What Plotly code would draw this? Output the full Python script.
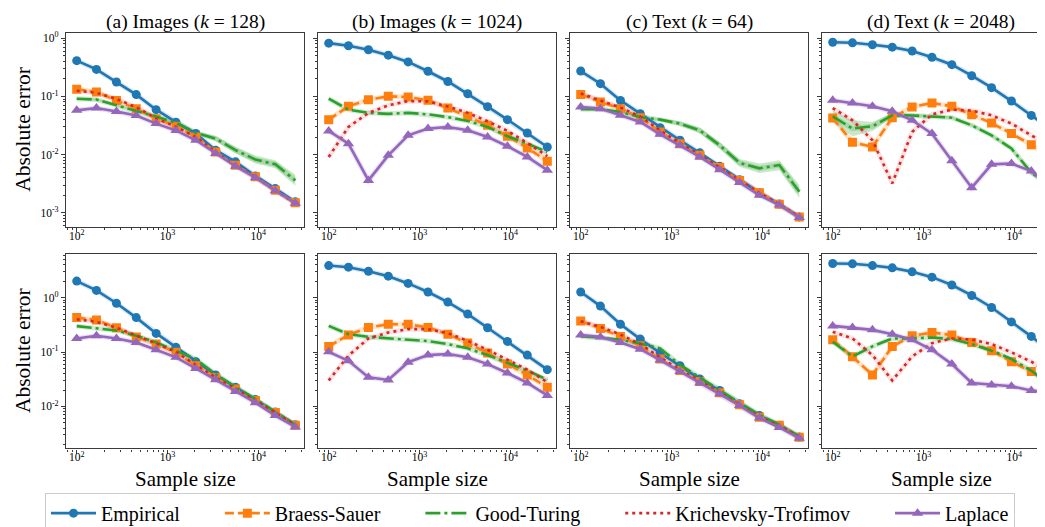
import plotly.graph_objects as go

W, H = 1045, 527

N = [100, 165, 274, 453, 750, 1241, 2054, 3400, 5627, 9314, 15415, 25600]

METHODS = ["Empirical", "Braess-Sauer", "Good-Turing", "Krichevsky-Trofimov", "Laplace"]
TITLES = ["(a) Images (<i>k</i> = 128)", "(b) Images (<i>k</i> = 1024)",
          "(c) Text (<i>k</i> = 64)", "(d) Text (<i>k</i> = 2048)"]
X_TICKS = [100, 1000, 10000]
X_TICKTEXT = ["10<sup>2</sup>", "10<sup>3</sup>", "10<sup>4</sup>"]
Y1_TICKS = [0.001, 0.01, 0.1, 1]
Y1_TICKTEXT = ["10<sup>-3</sup>", "10<sup>-2</sup>", "10<sup>-1</sup>", "10<sup>0</sup>"]
Y2_TICKS = [0.01, 0.1, 1]
Y2_TICKTEXT = ["10<sup>-2</sup>", "10<sup>-1</sup>", "10<sup>0</sup>"]

# ---- top row (panel a..d) ----
A1_EMP = [0.41, 0.29, 0.176, 0.107, 0.059, 0.036, 0.023, 0.0119, 0.0075, 0.0043, 0.0026, 0.00154]
A1_BS = [0.132, 0.119, 0.085, 0.0615, 0.0414, 0.0306, 0.0201, 0.0111, 0.00656, 0.00414, 0.00245, 0.00148]
A1_GT = [0.091, 0.088, 0.070, 0.057, 0.045, 0.035, 0.0235, 0.0188, 0.0119, 0.0082, 0.0068, 0.0036]
A1_KT = [0.125, 0.115, 0.090, 0.065, 0.042, 0.030, 0.020, 0.011, 0.0065, 0.0041, 0.0024, 0.00146]
A1_LAP = [0.0575, 0.063, 0.055, 0.047, 0.034, 0.026, 0.0176, 0.0104, 0.0063, 0.0040, 0.0024, 0.00146]
A1_GT_LO = [0.087, 0.085, 0.067, 0.055, 0.043, 0.033, 0.0220, 0.0169, 0.0104, 0.0070, 0.0058, 0.0029]
A1_GT_HI = [0.095, 0.092, 0.073, 0.059, 0.047, 0.037, 0.0251, 0.0209, 0.0136, 0.0096, 0.0080, 0.0045]

B1_EMP = [0.82, 0.74, 0.63, 0.51, 0.39, 0.27, 0.18, 0.111, 0.0665, 0.0398, 0.0235, 0.0135]
B1_BS = [0.0398, 0.0674, 0.0877, 0.100, 0.0975, 0.0854, 0.063, 0.0454, 0.0318, 0.0206, 0.013, 0.0077]
B1_GT = [0.091, 0.059, 0.052, 0.050, 0.052, 0.049, 0.044, 0.0378, 0.0298, 0.0206, 0.0154, 0.0111]
B1_KT = [0.0091, 0.0298, 0.0518, 0.070, 0.083, 0.082, 0.067, 0.052, 0.0373, 0.0255, 0.0158, 0.0094]
B1_LAP = [0.0255, 0.0154, 0.0036, 0.0097, 0.0214, 0.0279, 0.0298, 0.0261, 0.0201, 0.0139, 0.0091, 0.0054]

C1_EMP = [0.272, 0.165, 0.085, 0.0504, 0.029, 0.0176, 0.0107, 0.0063, 0.0037, 0.0022, 0.00141, 0.00085]
C1_BS = [0.108, 0.080, 0.0615, 0.043, 0.0245, 0.0154, 0.0097, 0.0060, 0.0036, 0.0022, 0.0014, 0.00085]
C1_GT = [0.060, 0.0605, 0.054, 0.044, 0.0398, 0.034, 0.026, 0.0144, 0.0072, 0.0058, 0.0066, 0.0023]
C1_KT = [0.112, 0.085, 0.064, 0.045, 0.026, 0.0158, 0.0098, 0.0060, 0.0036, 0.0022, 0.0014, 0.00085]
C1_LAP = [0.0657, 0.0615, 0.0472, 0.0363, 0.0223, 0.0144, 0.0091, 0.0055, 0.0033, 0.0020, 0.00136, 0.00083]
C1_GT_LO = [0.0577, 0.058, 0.052, 0.042, 0.0378, 0.0314, 0.0231, 0.0126, 0.0062, 0.0048, 0.0054, 0.0018]
C1_GT_HI = [0.0625, 0.063, 0.056, 0.046, 0.042, 0.0368, 0.0293, 0.0164, 0.0084, 0.0070, 0.0080, 0.0030]

D1_EMP = [0.85, 0.83, 0.77, 0.70, 0.60, 0.47, 0.35, 0.226, 0.141, 0.083, 0.047, 0.027]
D1_BS = [0.0425, 0.0163, 0.0135, 0.043, 0.0657, 0.0769, 0.0674, 0.0485, 0.0349, 0.0229, 0.0148, 0.0088]
D1_GT = [0.0454, 0.0279, 0.0306, 0.0472, 0.047, 0.0454, 0.043, 0.0318, 0.0214, 0.0127, 0.0049, 0.0028]
D1_KT = [0.063, 0.0388, 0.0176, 0.0032, 0.0245, 0.049, 0.059, 0.057, 0.0472, 0.034, 0.0214, 0.0135]
D1_LAP = [0.0854, 0.0769, 0.0674, 0.0553, 0.0388, 0.0229, 0.0078, 0.0027, 0.0068, 0.0070, 0.0052, 0.0028]
D1_GT_LO = [0.036, 0.0206, 0.0255, 0.0430, 0.0439, 0.0431, 0.0408, 0.0302, 0.0203, 0.0120, 0.0045, 0.0026]
D1_GT_HI = [0.057, 0.0388, 0.0363, 0.0516, 0.0503, 0.0478, 0.0453, 0.0335, 0.0225, 0.0134, 0.0051, 0.0030]

# ---- bottom row ----
A2_EMP = [2.02, 1.36, 0.79, 0.43, 0.22, 0.122, 0.0665, 0.038, 0.0226, 0.0134, 0.0079, 0.0046]
A2_BS = [0.43, 0.39, 0.28, 0.19, 0.14, 0.099, 0.056, 0.034, 0.021, 0.0128, 0.0077, 0.0045]
A2_GT = [0.30, 0.27, 0.25, 0.20, 0.15, 0.106, 0.074, 0.039, 0.0226, 0.0137, 0.0080, 0.0046]
A2_KT = [0.40, 0.36, 0.28, 0.20, 0.145, 0.100, 0.058, 0.034, 0.021, 0.0128, 0.0077, 0.0045]
A2_LAP = [0.178, 0.199, 0.178, 0.150, 0.110, 0.080, 0.050, 0.031, 0.0188, 0.0117, 0.0068, 0.0042]

B2_EMP = [3.9, 3.64, 3.07, 2.49, 1.83, 1.27, 0.83, 0.50, 0.28, 0.157, 0.088, 0.0475]
B2_BS = [0.127, 0.207, 0.283, 0.325, 0.325, 0.283, 0.213, 0.146, 0.096, 0.060, 0.038, 0.0226]
B2_GT = [0.303, 0.213, 0.190, 0.178, 0.168, 0.159, 0.140, 0.117, 0.088, 0.063, 0.0456, 0.031]
B2_KT = [0.030, 0.0857, 0.178, 0.229, 0.264, 0.264, 0.223, 0.161, 0.110, 0.071, 0.0475, 0.0279]
B2_LAP = [0.101, 0.069, 0.0344, 0.0307, 0.065, 0.088, 0.092, 0.080, 0.060, 0.0413, 0.0271, 0.0159]

C2_EMP = [1.27, 0.70, 0.325, 0.173, 0.096, 0.056, 0.032, 0.0196, 0.0112, 0.0068, 0.0045, 0.00275]
C2_BS = [0.374, 0.271, 0.194, 0.130, 0.0745, 0.0456, 0.0287, 0.0178, 0.0107, 0.0063, 0.0045, 0.0027]
C2_GT = [0.194, 0.185, 0.168, 0.144, 0.117, 0.058, 0.034, 0.0196, 0.0116, 0.0070, 0.0046, 0.0028]
C2_KT = [0.37, 0.29, 0.21, 0.14, 0.080, 0.047, 0.029, 0.018, 0.0107, 0.0064, 0.0044, 0.0027]
C2_LAP = [0.205, 0.190, 0.150, 0.113, 0.071, 0.0437, 0.0271, 0.0170, 0.0104, 0.0061, 0.0041, 0.0026]

D2_EMP = [4.25, 4.2, 3.9, 3.54, 2.99, 2.39, 1.71, 1.10, 0.66, 0.359, 0.194, 0.101]
D2_BS = [0.168, 0.082, 0.038, 0.127, 0.199, 0.229, 0.205, 0.150, 0.106, 0.0665, 0.0437, 0.026]
D2_GT = [0.155, 0.083, 0.127, 0.178, 0.178, 0.185, 0.173, 0.140, 0.106, 0.0745, 0.0456, 0.0235]
D2_KT = [0.235, 0.178, 0.088, 0.030, 0.083, 0.146, 0.178, 0.170, 0.140, 0.099, 0.0665, 0.0396]
D2_LAP = [0.303, 0.283, 0.256, 0.213, 0.168, 0.110, 0.060, 0.027, 0.0249, 0.0235, 0.0196, 0.0183]

PANELS = [
    [A1_EMP, A1_BS, A1_GT, A1_KT, A1_LAP],
    [B1_EMP, B1_BS, B1_GT, B1_KT, B1_LAP],
    [C1_EMP, C1_BS, C1_GT, C1_KT, C1_LAP],
    [D1_EMP, D1_BS, D1_GT, D1_KT, D1_LAP],
    [A2_EMP, A2_BS, A2_GT, A2_KT, A2_LAP],
    [B2_EMP, B2_BS, B2_GT, B2_KT, B2_LAP],
    [C2_EMP, C2_BS, C2_GT, C2_KT, C2_LAP],
    [D2_EMP, D2_BS, D2_GT, D2_KT, D2_LAP],
]
GT_BANDS = {0: (A1_GT_LO, A1_GT_HI), 2: (C1_GT_LO, C1_GT_HI), 3: (D1_GT_LO, D1_GT_HI)}

COLORS = ["#1f77b4", "#ff7f0e", "#2ca02c", "#d62728", "#9467bd"]
HALO = ["rgba(31,119,180,0.18)", "rgba(255,127,14,0.22)", "rgba(44,160,44,0.22)",
        "rgba(214,39,40,0.13)", "rgba(148,103,189,0.22)"]
DASHES = ["solid", "9px,4px", "15px,4px,3px,4px", "3px,4px", "solid"]
SYMBOLS = ["circle", "square", "none", "none", "triangle-up"]
MSIZE = [9, 9, 0, 0, 10]
# spacing after each legend label (non-breaking spaces) to spread entries
LEGEND_PAD = [7, 7, 7, 7, 0]

FONT = "Liberation Serif"
FRAME = "#3a3a3a"

# panel geometry (pixels)
COLS_PX = [(58, 296), (310, 548), (562, 800), (814, 1045)]
ROWS_PX = [(22, 217), (244, 440)]
X_RANGE_FULL = (1.882, 4.504)
PX_PER_DEC = (296 - 58) / (X_RANGE_FULL[1] - X_RANGE_FULL[0])
Y_RANGES = [(-3.24, 0.09), (-2.774, 0.811)]

fig = go.Figure()

for p, series in enumerate(PANELS):
    ax = "" if p == 0 else str(p + 1)
    xa, ya = "x" + ax, "y" + ax
    for m, ys in enumerate(series):
        if m == 2 and p in GT_BANDS:
            lo, hi = GT_BANDS[p]
            fig.add_trace(go.Scatter(x=N, y=lo, mode="lines", line=dict(width=0, color=HALO[2]),
                                     showlegend=False, hoverinfo="skip", xaxis=xa, yaxis=ya))
            fig.add_trace(go.Scatter(x=N, y=hi, mode="lines", line=dict(width=0, color=HALO[2]),
                                     fill="tonexty", fillcolor="rgba(44,160,44,0.25)",
                                     showlegend=False, hoverinfo="skip", xaxis=xa, yaxis=ya))
        fig.add_trace(go.Scatter(x=N, y=ys, mode="lines", line=dict(width=5, color=HALO[m]),
                                 showlegend=False, hoverinfo="skip", xaxis=xa, yaxis=ya))
    for m, ys in enumerate(series):
        mode = "lines+markers" if SYMBOLS[m] != "none" else "lines"
        fig.add_trace(go.Scatter(
            x=N, y=ys, mode=mode, name=METHODS[m] + "\u00a0" * LEGEND_PAD[m],
            line=dict(color=COLORS[m], width=2.6, dash=DASHES[m]),
            marker=dict(symbol=SYMBOLS[m] if SYMBOLS[m] != "none" else "circle",
                        size=MSIZE[m] if MSIZE[m] else 6, color=COLORS[m]),
            showlegend=(p == 0), legendgroup=METHODS[m], xaxis=xa, yaxis=ya))

x_minor = [v * 10 ** e for e in (1, 2, 3, 4) for v in range(2, 10)]
y_minor = [v * 10.0 ** e for e in (-4, -3, -2, -1, 0) for v in range(2, 10)]

layout = dict(
    width=W, height=H, margin=dict(l=0, r=0, t=0, b=0),
    paper_bgcolor="white", plot_bgcolor="white",
    font=dict(family=FONT, color="black"),
    showlegend=True,
    legend=dict(orientation="h", x=522 / W, xanchor="center", y=1 - 505 / H, yanchor="middle",
                font=dict(family=FONT, size=20, color="black"),
                bordercolor="#cccccc", borderwidth=1, bgcolor="white",
                itemwidth=45, traceorder="normal"),
)

annotations = []
for p in range(8):
    r, c = divmod(p, 4)
    ax = "" if p == 0 else str(p + 1)
    x0, x1 = COLS_PX[c]
    y0, y1 = ROWS_PX[r]
    xr = list(X_RANGE_FULL)
    if c == 3:
        xr[1] = X_RANGE_FULL[0] + (x1 - x0) / PX_PER_DEC
    layout["xaxis" + ax] = dict(
        domain=[x0 / W, x1 / W], anchor="y" + ax, type="log", range=xr,
        showline=True, linecolor=FRAME, linewidth=1.2, mirror=True,
        ticks="outside", ticklen=4, tickwidth=1, tickcolor=FRAME,
        tickvals=X_TICKS, ticktext=X_TICKTEXT, showgrid=False, zeroline=False,
        ticklabelstandoff=-6,
        tickfont=dict(family=FONT, size=11.5, color="black"),
        minor=dict(tickvals=x_minor, ticks="outside", ticklen=2, tickwidth=0.8,
                   tickcolor=FRAME, showgrid=False),
    )
    yt, ytt = (Y1_TICKS, Y1_TICKTEXT) if r == 0 else (Y2_TICKS, Y2_TICKTEXT)
    layout["yaxis" + ax] = dict(
        domain=[1 - y1 / H, 1 - y0 / H], anchor="x" + ax, type="log", range=list(Y_RANGES[r]),
        showline=True, linecolor=FRAME, linewidth=1.2, mirror=(c != 3),
        ticks="outside", ticklen=4, tickwidth=1, tickcolor=FRAME,
        tickvals=yt, ticktext=ytt,
        showticklabels=(c == 0), showgrid=False, zeroline=False,
        tickfont=dict(family=FONT, size=11.5, color="black"),
        minor=dict(tickvals=y_minor, ticks="outside", ticklen=2, tickwidth=0.8,
                   tickcolor=FRAME, showgrid=False),
    )

for c in range(4):
    cx = COLS_PX[c][0] + 119
    annotations.append(dict(text=TITLES[c], x=cx / W, y=1 - 11 / H, xref="paper", yref="paper",
                            xanchor="center", yanchor="middle", showarrow=False,
                            font=dict(family=FONT, size=19.5, color="black")))
    annotations.append(dict(text="Sample size", x=cx / W, y=1 - 471 / H, xref="paper", yref="paper",
                            xanchor="center", yanchor="middle", showarrow=False,
                            font=dict(family=FONT, size=21, color="black")))
for r in range(2):
    cy = (ROWS_PX[r][0] + ROWS_PX[r][1]) / 2
    annotations.append(dict(text="Absolute error", x=15 / W, y=1 - cy / H, xref="paper", yref="paper",
                            xanchor="center", yanchor="middle", textangle=-90, showarrow=False,
                            font=dict(family=FONT, size=21.5, color="black")))
layout["annotations"] = annotations

fig.update_layout(**layout)
fig.write_html("out.html")
